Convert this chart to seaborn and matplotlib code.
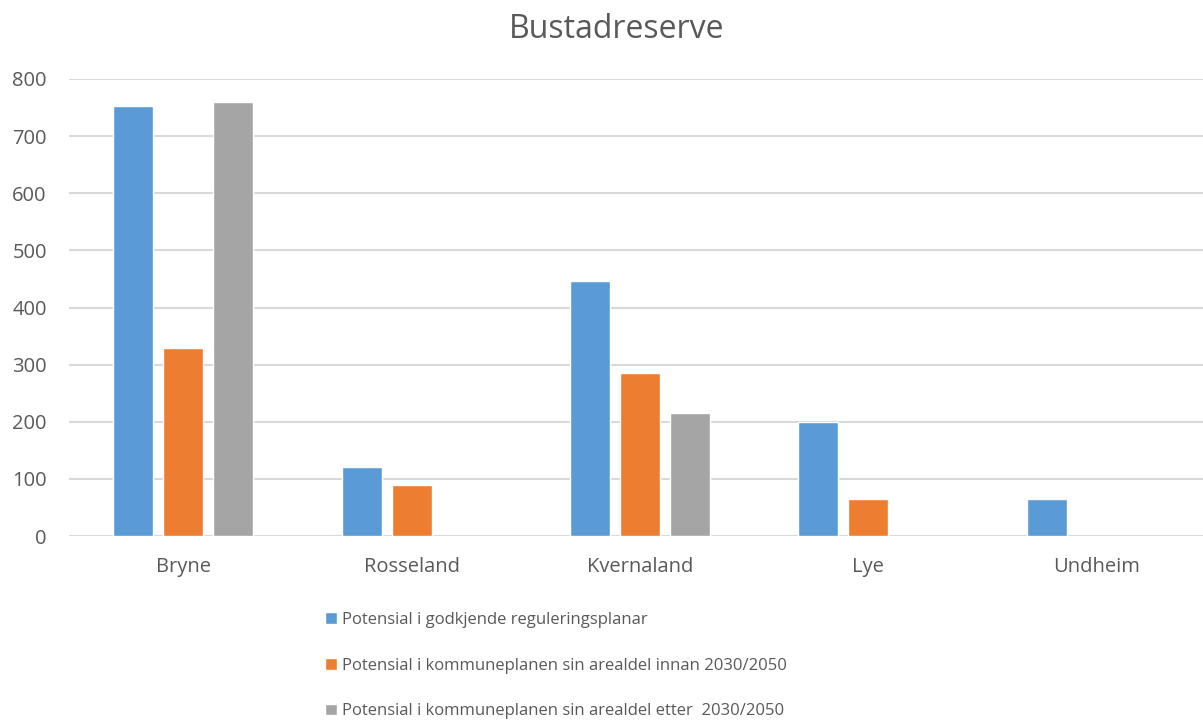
import numpy as np
import pandas as pd
import matplotlib
matplotlib.use("Agg")
import matplotlib.pyplot as plt
import seaborn as sns

# data
omrade = ['Bryne', 'Rosseland', 'Kvernaland', 'Lye', 'Undheim']
serie_namn = [
    'Potensial i godkjende reguleringsplanar',
    'Potensial i kommuneplanen sin arealdel innan 2030/2050',
    'Potensial i kommuneplanen sin arealdel etter  2030/2050',
]
godkjende = [753, 120, 447, 200, 64]
innan = [329, 90, 285, 64, np.nan]     # Undheim has no value
etter = [760, np.nan, 215, np.nan, np.nan]
farger = ['#5B9BD5', '#ED7D31', '#A5A5A5']

df = pd.DataFrame({
    'omrade': omrade * 3,
    'serie': [serie_namn[0]] * 5 + [serie_namn[1]] * 5 + [serie_namn[2]] * 5,
    'verdi': godkjende + innan + etter,
})

sns.set_style('white')
plt.rcParams['font.family'] = ['Open Sans', 'DejaVu Sans']
tekstfarge = '#595959'

fig = plt.figure(figsize=(12.03, 7.22), dpi=100)
# axes placed in pixels: left 69, right 1211, top 79, bottom 536
ax = fig.add_axes([69 / 1203, (722 - 536) / 722, (1211 - 69) / 1203, (536 - 79) / 722])

sns.barplot(data=df, x='omrade', y='verdi', hue='serie', order=omrade,
            hue_order=serie_namn, palette=farger, width=0.656, gap=0.2,
            saturation=1, ax=ax, legend=True)

ax.set_ylim(0, 800)
ax.set_xlim(-0.5, 4.5)
ax.set_yticks(range(0, 801, 100))
ax.yaxis.grid(True, color='#d9d9d9', linewidth=1.5)
ax.set_axisbelow(True)
for s in ax.spines.values():
    s.set_visible(False)
ax.set_xlabel('')
ax.set_ylabel('')
ax.tick_params(axis='both', length=0, labelsize=14.5, colors=tekstfarge)
ax.tick_params(axis='x', pad=15)
ax.tick_params(axis='y', pad=16)

fig.text(617 / 1203, 1 - 29 / 722, 'Bustadreserve', ha='center', va='center',
         fontsize=23, color=tekstfarge)

handles, labels = ax.get_legend_handles_labels()
ax.get_legend().remove()
leg = fig.legend(handles, labels, loc='upper left',
                 bbox_to_anchor=(310 / 1203, 1 - 597 / 722), frameon=False,
                 fontsize=12, handlelength=0.7, handleheight=0.7,
                 handletextpad=0.3, labelspacing=1.78)
for t in leg.get_texts():
    t.set_color(tekstfarge)

fig.savefig('out.png', dpi=100)
